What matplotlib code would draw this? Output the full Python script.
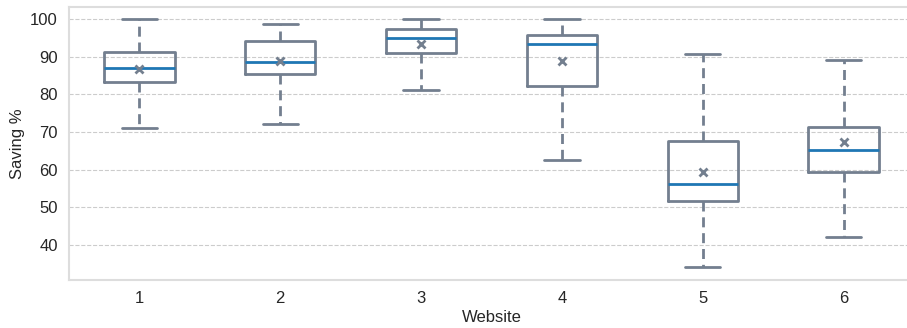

import matplotlib
matplotlib.use("Agg")
import matplotlib.pyplot as plt
import seaborn as sns

websites = [1, 2, 3, 4, 5, 6]
whisker_low = [71.0, 72.2, 81.2, 62.5, 34.1, 42.0]
q1 = [83.2, 85.5, 91.0, 82.3, 51.7, 59.5]
median = [87.0, 88.5, 95.0, 93.4, 56.1, 65.2]
mean = [86.7, 88.8, 93.3, 89.0, 59.3, 67.5]
q3 = [91.2, 94.2, 97.4, 95.7, 67.6, 71.3]
whisker_high = [100.0, 98.7, 100.0, 100.0, 90.8, 89.1]

sns.set_theme(style="whitegrid")
plt.rcParams["font.family"] = ["Liberation Sans", "DejaVu Sans"]

stats = []
for i, w in enumerate(websites):
    stats.append({
        "label": str(w),
        "whislo": whisker_low[i],
        "q1": q1[i],
        "med": median[i],
        "mean": mean[i],
        "q3": q3[i],
        "whishi": whisker_high[i],
        "fliers": [],
    })

edge = "#737f8f"
fig = plt.figure(figsize=(9.07, 3.28), dpi=100)
ax = fig.add_axes([0.0761, 0.1463, 0.9316, 0.833])

ax.bxp(
    stats,
    positions=websites,
    widths=0.5,
    showmeans=True,
    boxprops=dict(color=edge, linewidth=2),
    whiskerprops=dict(color=edge, linewidth=2, linestyle=(0, (3.6, 2.1))),
    capprops=dict(color=edge, linewidth=2),
    medianprops=dict(color="#1f77b4", linewidth=2),
    meanprops=dict(marker="x", markeredgecolor=edge, markersize=6,
                   markeredgewidth=2),
)

ax.set_xlim(0.5, 6.5)
ax.set_ylim(30.7, 103.3)
ax.set_yticks([40, 50, 60, 70, 80, 90, 100])
ax.xaxis.grid(False)
ax.yaxis.grid(True, linestyle="--", color="#cccccc", linewidth=0.8)
ax.set_axisbelow(True)
ax.set_xlabel("Website", fontsize=12, color="#262626", labelpad=3)
ax.set_ylabel("Saving %", fontsize=12, color="#262626")
ax.tick_params(axis="both", labelsize=12, colors="#262626", length=0, pad=8)
for s in ax.spines.values():
    s.set_color("#dddddd")
    s.set_linewidth(1.5)

fig.savefig("out.png", dpi=100)
